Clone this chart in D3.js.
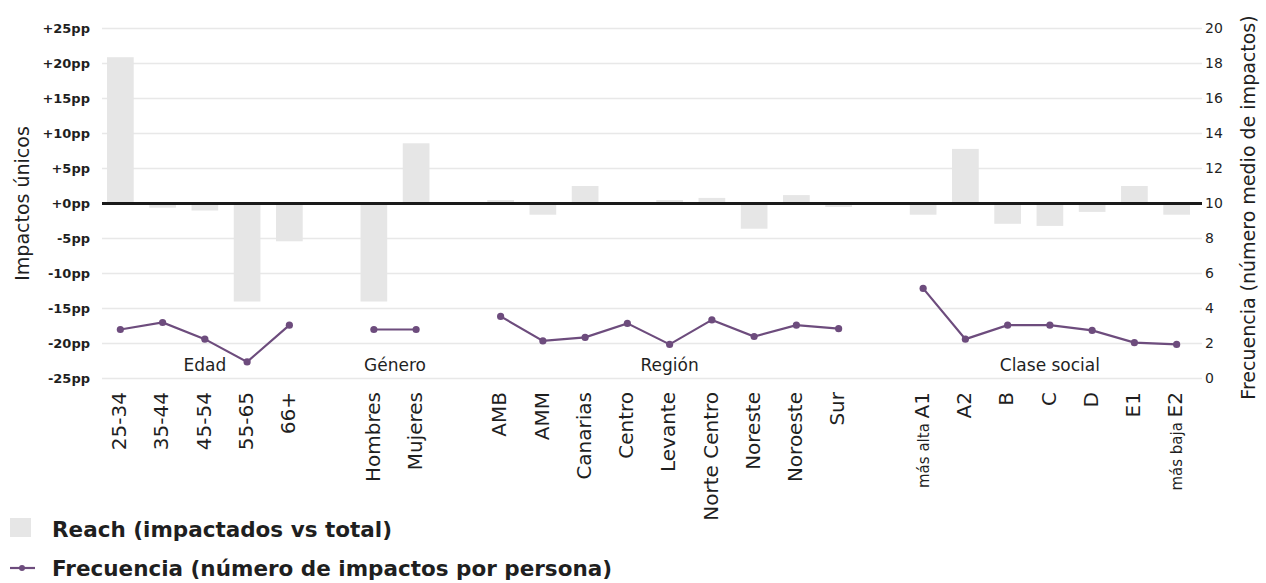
<!DOCTYPE html>
<html>
<head>
<meta charset="utf-8">
<script src="https://cdn.jsdelivr.net/npm/d3@7"></script>
<style>
  html, body { margin: 0; padding: 0; background: #fff; }
  svg { display: block; font-family: "DejaVu Sans", sans-serif; }
</style>
</head>
<body>
<svg id="chart" width="1266" height="583"></svg>
<script>
// ---- Data ----
const groupNames = ["Edad", "Género", "Región", "Clase social"];

const ageCats = ["25-34", "35-44", "45-54", "55-65", "66+"];
const ageReach = [20.9, -0.6, -1.0, -14.0, -5.4];
const ageFreq = [2.8, 3.2, 2.25, 0.95, 3.05];

const genderCats = ["Hombres", "Mujeres"];
const genderReach = [-14.0, 8.6];
const genderFreq = [2.8, 2.8];

const regionCats = ["AMB", "AMM", "Canarias", "Centro", "Levante", "Norte Centro", "Noreste", "Noroeste", "Sur"];
const regionReach = [0.5, -1.6, 2.5, 0.0, 0.5, 0.8, -3.6, 1.2, -0.5];
const regionFreq = [3.55, 2.15, 2.35, 3.15, 1.95, 3.35, 2.4, 3.05, 2.85];

const classCats = ["A1", "A2", "B", "C", "D", "E1", "E2"];
const classPrefix = ["más alta", "", "", "", "", "", "más baja"];
const classReach = [-1.6, 7.8, -2.9, -3.2, -1.2, 2.5, -1.6];
const classFreq = [5.15, 2.25, 3.05, 3.05, 2.75, 2.05, 1.95];

const leftTicks = [-25, -20, -15, -10, -5, 0, 5, 10, 15, 20, 25];
const leftTickLabels = ["-25pp", "-20pp", "-15pp", "-10pp", "-5pp", "+0pp", "+5pp", "+10pp", "+15pp", "+20pp", "+25pp"];
const rightTicks = [0, 2, 4, 6, 8, 10, 12, 14, 16, 18, 20];

const leftTitle = "Impactos únicos";
const rightTitle = "Frecuencia (número medio de impactos)";
const legendReach = "Reach (impactados vs total)";
const legendFreq = "Frecuencia (número de impactos por persona)";

// ---- Build table ----
const groupsRaw = [
  { name: groupNames[0], cats: ageCats, reach: ageReach, freq: ageFreq, prefix: null },
  { name: groupNames[1], cats: genderCats, reach: genderReach, freq: genderFreq, prefix: null },
  { name: groupNames[2], cats: regionCats, reach: regionReach, freq: regionFreq, prefix: null },
  { name: groupNames[3], cats: classCats, reach: classReach, freq: classFreq, prefix: classPrefix }
];
const slots = [];
const rows = [];
groupsRaw.forEach((g, gi) => {
  g.cats.forEach((c, i) => {
    const key = g.name + "|" + c;
    slots.push(key);
    rows.push({ key, group: g.name, cat: c, reach: g.reach[i], freq: g.freq[i], prefix: g.prefix ? g.prefix[i] : "" });
  });
  if (gi < groupsRaw.length - 1) slots.push("gap" + gi);
});

// ---- Layout ----
const plotL = 102, plotR = 1202;
const yTop = 28.5, yBot = 378.5;
const colorLine = "#6d4c7d";
const colorBar = "#e6e6e6";
const colorText = "#1f1f1f";

const svg = d3.select("#chart");

const x = d3.scaleBand().domain(slots).range([107, 1190]).paddingInner(0.368).paddingOuter(0);
const yL = d3.scaleLinear().domain([-25, 25]).range([yBot, yTop]);
const yR = d3.scaleLinear().domain([0, 20]).range([yBot, yTop]);

// gridlines
svg.append("g").selectAll("line").data(leftTicks).join("line")
  .attr("x1", plotL).attr("x2", plotR)
  .attr("y1", d => yL(d)).attr("y2", d => yL(d))
  .attr("stroke", "#e8e8e8").attr("stroke-width", 1.3);

// left axis
const axL = svg.append("g").attr("transform", `translate(${plotL},0)`)
  .call(d3.axisLeft(yL).tickValues(leftTicks).tickSize(0).tickPadding(12)
    .tickFormat((d, i) => leftTickLabels[i]));
axL.select(".domain").remove();
axL.selectAll("text").attr("font-family", "DejaVu Sans").attr("font-size", 13)
  .attr("font-weight", "bold").attr("fill", colorText);

// right axis
const axR = svg.append("g").attr("transform", `translate(${plotR},0)`)
  .call(d3.axisRight(yR).tickValues(rightTicks).tickSize(0).tickPadding(3));
axR.select(".domain").remove();
axR.selectAll("text").attr("font-family", "DejaVu Sans").attr("font-size", 14).attr("fill", colorText);

// bars
svg.append("g").selectAll("rect").data(rows).join("rect")
  .attr("x", d => x(d.key))
  .attr("width", x.bandwidth())
  .attr("y", d => yL(Math.max(0, d.reach)))
  .attr("height", d => Math.abs(yL(d.reach) - yL(0)))
  .attr("fill", colorBar);

// zero line
svg.append("line")
  .attr("x1", plotL).attr("x2", plotR)
  .attr("y1", yL(0)).attr("y2", yL(0))
  .attr("stroke", "#1a1a1a").attr("stroke-width", 3);

// frequency lines per group
const line = d3.line().x(d => x(d.key) + x.bandwidth() / 2).y(d => yR(d.freq));
groupNames.forEach(gn => {
  const gr = rows.filter(r => r.group === gn);
  svg.append("path").datum(gr).attr("d", line)
    .attr("fill", "none").attr("stroke", colorLine).attr("stroke-width", 2.2);
  svg.append("g").selectAll("circle").data(gr).join("circle")
    .attr("cx", d => x(d.key) + x.bandwidth() / 2)
    .attr("cy", d => yR(d.freq))
    .attr("r", 3.6).attr("fill", colorLine);
});

// group labels
groupNames.forEach(gn => {
  const gr = rows.filter(r => r.group === gn);
  const cx = d3.mean(gr, d => x(d.key) + x.bandwidth() / 2);
  svg.append("text").attr("x", cx).attr("y", 371)
    .attr("text-anchor", "middle").attr("font-size", 17).attr("fill", colorText).text(gn);
});

// x labels
const xl = svg.append("g").selectAll("text").data(rows).join("text")
  .attr("transform", d => `translate(${x(d.key) + x.bandwidth() / 2},392) rotate(-90)`)
  .attr("text-anchor", "end").attr("dy", "0.36em")
  .attr("fill", colorText);
xl.each(function (d) {
  const t = d3.select(this);
  if (d.prefix) {
    t.append("tspan").attr("font-size", 15).text(d.prefix + " ");
  }
  t.append("tspan").attr("font-size", 20).text(d.cat);
});

// axis titles
svg.append("text").attr("transform", `translate(29,${(yTop + yBot) / 2}) rotate(-90)`)
  .attr("text-anchor", "middle").attr("font-size", 19).attr("fill", colorText).text(leftTitle);
svg.append("text").attr("transform", `translate(1255,${(yTop + yBot) / 2 + 4}) rotate(-90)`)
  .attr("text-anchor", "middle").attr("font-size", 19).attr("fill", colorText).text(rightTitle);

// legend
const lg = svg.append("g");
lg.append("rect").attr("x", 10).attr("y", 518).attr("width", 21).attr("height", 19).attr("fill", colorBar);
lg.append("text").attr("x", 52).attr("y", 537).attr("font-size", 21.5).attr("font-weight", "bold")
  .attr("fill", colorText).text(legendReach);
lg.append("line").attr("x1", 10).attr("x2", 35).attr("y1", 568).attr("y2", 568)
  .attr("stroke", colorLine).attr("stroke-width", 2.2);
lg.append("circle").attr("cx", 22).attr("cy", 568).attr("r", 3).attr("fill", colorLine);
lg.append("text").attr("x", 52).attr("y", 576).attr("font-size", 21.5).attr("font-weight", "bold")
  .attr("fill", colorText).text(legendFreq);
</script>
</body>
</html>
